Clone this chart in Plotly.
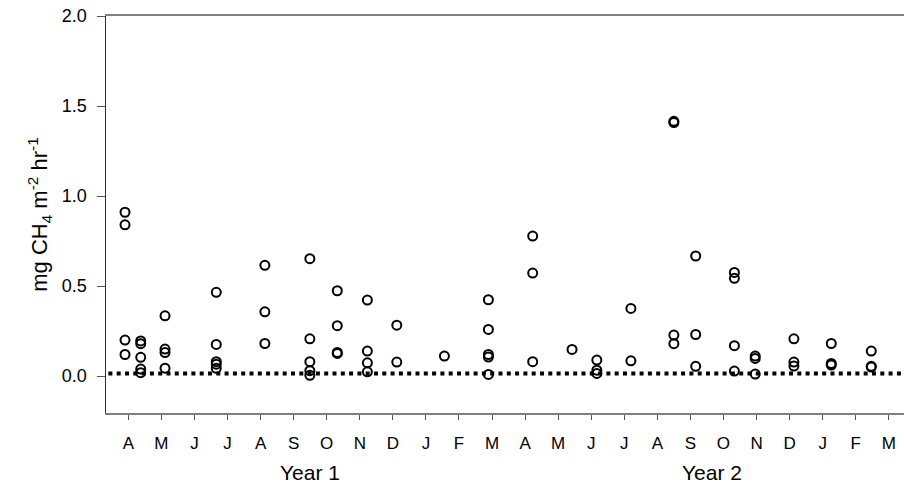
import plotly.graph_objects as go

# Month tick labels (Apr of year 1 .. Mar of year 2 end)
month_labels = ["A", "M", "J", "J", "A", "S", "O", "N", "D", "J", "F", "M",
                "A", "M", "J", "J", "A", "S", "O", "N", "D", "J", "F", "M"]

# Sampling dates expressed in months since the first April tick
sample_dates = [-0.1, 0.375, 1.11, 2.66, 4.13, 5.49, 6.32, 7.23, 8.12, 9.56, 10.89,
                12.23, 13.42, 14.17, 15.2, 16.5, 17.16, 18.33, 18.96, 20.13, 21.26, 22.47]

# Methane flux values (mg CH4 m-2 hr-1) observed on each sampling date
flux_values = [
    [0.91, 0.84, 0.20, 0.12],
    [0.195, 0.18, 0.104, 0.039, 0.019],
    [0.335, 0.15, 0.131, 0.044],
    [0.465, 0.176, 0.08, 0.066, 0.043],
    [0.615, 0.357, 0.181],
    [0.652, 0.207, 0.08, 0.03, 0.004],
    [0.474, 0.28, 0.131, 0.126],
    [0.422, 0.139, 0.074, 0.024],
    [0.283, 0.078],
    [0.111],
    [0.424, 0.259, 0.12, 0.106, 0.009],
    [0.778, 0.572, 0.08],
    [0.148],
    [0.089, 0.033, 0.015],
    [0.376, 0.085],
    [1.415, 1.408, 0.228, 0.18],
    [0.667, 0.231, 0.054],
    [0.576, 0.543, 0.169, 0.028],
    [0.111, 0.098, 0.011],
    [0.207, 0.078, 0.056],
    [0.181, 0.07, 0.061],
    [0.139, 0.054, 0.05],
]

detection_limit = 0.015
year_labels = ["Year 1", "Year 2"]
year_positions = [5.5, 17.65]

xs, ys = [], []
for d, vals in zip(sample_dates, flux_values):
    for v in vals:
        xs.append(d)
        ys.append(v)

FONT = "Liberation Sans, Arial, Helvetica, sans-serif"

fig = go.Figure()
fig.add_trace(go.Scatter(
    x=xs, y=ys, mode="markers",
    marker=dict(symbol="circle-open", size=9, color="black",
                line=dict(width=2, color="black")),
    showlegend=False, hoverinfo="skip",
))

fig.add_shape(type="line", xref="paper", yref="y", x0=0.003, x1=1,
              y0=detection_limit, y1=detection_limit,
              line=dict(color="black", width=4, dash="4px,4.3px"))

for lab, pos in zip(year_labels, year_positions):
    fig.add_annotation(x=pos, y=-0.15, xref="x", yref="paper", text=lab,
                       showarrow=False, yanchor="middle",
                       font=dict(family=FONT, size=21, color="black"))

fig.update_layout(
    width=904, height=486,
    margin=dict(l=106, r=0, t=16, b=73),
    paper_bgcolor="white", plot_bgcolor="white",
    font=dict(family=FONT, size=17, color="black"),
    xaxis=dict(
        range=[-0.675, 23.46],
        tickmode="array", tickvals=list(range(24)), ticktext=month_labels,
        showgrid=False, zeroline=False,
        showline=True, linecolor="#808080", linewidth=2, mirror=True,
        ticks="outside", ticklen=5, tickcolor="#555", tickwidth=1,
        ticklabelstandoff=9,
        tickfont=dict(family=FONT, size=17, color="black"),
    ),
    yaxis=dict(
        range=[-0.205, 2.0],
        tickmode="array", tickvals=[0, 0.5, 1.0, 1.5, 2.0],
        ticktext=["0.0", "0.5", "1.0", "1.5", "2.0"],
        showgrid=False, zeroline=False,
        showline=True, linecolor="#333", linewidth=1.5,
        ticks="outside", ticklen=8, tickcolor="#555", tickwidth=1,
        ticklabelstandoff=6,
        tickfont=dict(family=FONT, size=18, color="black"),
        title=dict(text="mg CH<sub>4</sub> m<sup>-2</sup> hr<sup>-1</sup>",
                   font=dict(family=FONT, size=22, color="black"), standoff=8),
    ),
)

fig.write_html("out.html",
               config={"displayModeBar": False, "staticPlot": True},
               post_script="document.body.style.margin='0';document.body.style.overflow='hidden';")
